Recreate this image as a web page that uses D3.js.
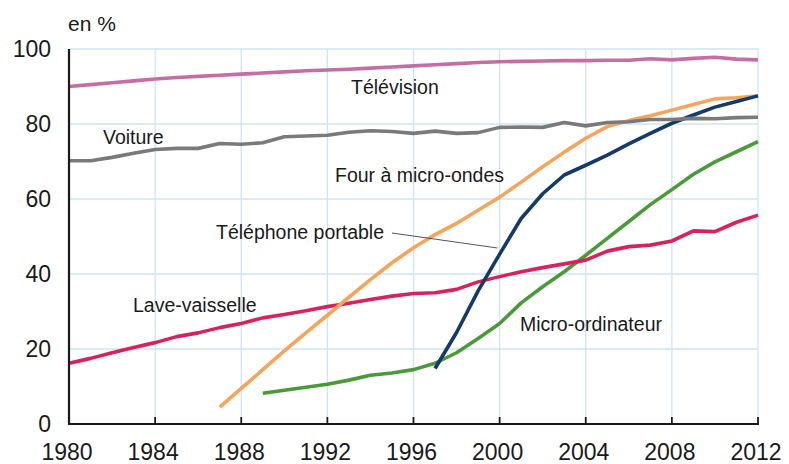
<!DOCTYPE html>
<html>
<head>
<meta charset="utf-8">
<script src="https://cdn.jsdelivr.net/npm/d3@7"></script>
<style>
  body { margin: 0; background: #fff; }
  text { font-family: "Liberation Sans", Arial, sans-serif; fill: #1a1a1a; }
</style>
</head>
<body>
<div id="chart"></div>
<script>
// data (taux d'équipement des ménages, en %)
const years = d3.range(1980, 2013);
const xTicks = [1980, 1984, 1988, 1992, 1996, 2000, 2004, 2008, 2012];
const yTicks = [0, 20, 40, 60, 80, 100];

const television = [90, 90.5, 91, 91.5, 92, 92.4, 92.7, 93, 93.3, 93.6, 93.9, 94.2, 94.4, 94.6, 94.9, 95.2,
  95.5, 95.8, 96.1, 96.4, 96.6, 96.7, 96.8, 96.9, 96.9, 97.0, 97.0, 97.4, 97.1, 97.5, 97.8, 97.3, 97.1];
const voiture = [70.2, 70.2, 71.1, 72.2, 73.2, 73.5, 73.5, 74.8, 74.6, 75, 76.6, 76.8, 77, 77.8, 78.2, 78,
  77.5, 78.1, 77.5, 77.7, 79.1, 79.2, 79.1, 80.4, 79.5, 80.4, 80.6, 81.2, 81.2, 81.5, 81.4, 81.7, 81.8];
const laveVaisselle = [16.2, 17.5, 19, 20.4, 21.7, 23.3, 24.3, 25.7, 26.8, 28.3, 29.2, 30.2, 31.3, 32.2, 33.2, 34.1,
  34.8, 35, 35.9, 37.9, 39.3, 40.6, 41.7, 42.7, 43.7, 46.1, 47.3, 47.7, 48.8, 51.5, 51.3, 53.8, 55.7];

const microOndesYears = d3.range(1987, 2013);
const microOndes = [4.5, 9.5, 14.5, 19.5, 24.3, 29, 33.8, 38.5, 43, 47, 50.5, 53.5, 57, 60.5, 64.5, 68.6,
  72.5, 76.2, 79.3, 80.9, 82.2, 83.7, 85.2, 86.7, 87, 87.5];

const microOrdiYears = d3.range(1989, 2013);
const microOrdi = [8.2, 9, 9.8, 10.6, 11.7, 13, 13.6, 14.5, 16.2, 19, 22.8, 26.8, 32.3, 36.6, 40.6, 45,
  49.5, 54, 58.5, 62.5, 66.6, 69.9, 72.6, 75.3];

const portableYears = d3.range(1997, 2013);
const portable = [14.8, 24.4, 35.5, 45.3, 54.8, 61.4, 66.4, 69, 71.7, 74.7, 77.5, 80.2, 82.4, 84.5, 86, 87.5];

const series = [
  { name: "Micro-ordinateur", years: microOrdiYears, values: microOrdi, color: "#4b9a3a" },
  { name: "Lave-vaisselle", years: years, values: laveVaisselle, color: "#d9215c" },
  { name: "Four à micro-ondes", years: microOndesYears, values: microOndes, color: "#f5a55a" },
  { name: "Téléphone portable", years: portableYears, values: portable, color: "#133a68" },
  { name: "Voiture", years: years, values: voiture, color: "#7a7a7a" },
  { name: "Télévision", years: years, values: television, color: "#c66ea4" }
];

// label positions (text baseline, left edge)
const labels = [
  { text: "Télévision", x: 351, y: 94 },
  { text: "Voiture", x: 103, y: 144 },
  { text: "Four à micro-ondes", x: 335, y: 182 },
  { text: "Téléphone portable", x: 216, y: 239 },
  { text: "Lave-vaisselle", x: 133, y: 312 },
  { text: "Micro-ordinateur", x: 520, y: 331 }
];

const width = 789, height = 464;

const x = d3.scaleLinear().domain([1980, 2012]).range([69, 758]);
const y = d3.scaleLinear().domain([0, 100]).range([424, 49]);

const svg = d3.select("#chart").append("svg")
  .attr("width", width)
  .attr("height", height);

// grid
svg.append("g").selectAll("line.v")
  .data(xTicks.slice(1))
  .join("line")
  .attr("x1", d => x(d)).attr("x2", d => x(d))
  .attr("y1", y(100)).attr("y2", y(0))
  .attr("stroke", "#cfe4f3").attr("stroke-width", 1.3);

svg.append("g").selectAll("line.h")
  .data(yTicks.slice(1))
  .join("line")
  .attr("x1", x(1980)).attr("x2", x(2012))
  .attr("y1", d => y(d)).attr("y2", d => y(d))
  .attr("stroke", "#cfe4f3").attr("stroke-width", 1.3);

// series lines
const line = d3.line()
  .x(d => x(d[0]))
  .y(d => y(d[1]));

svg.append("g").selectAll("path")
  .data(series)
  .join("path")
  .attr("d", s => line(s.years.map((yr, i) => [yr, s.values[i]])))
  .attr("fill", "none")
  .attr("stroke", s => s.color)
  .attr("stroke-width", 3.6)
  .attr("stroke-linejoin", "round");

// axes
svg.append("line")
  .attr("x1", x(1980)).attr("x2", x(1980))
  .attr("y1", y(100)).attr("y2", y(0) + 1)
  .attr("stroke", "#1a1a1a").attr("stroke-width", 2.2);

svg.append("line")
  .attr("x1", x(1980) - 1).attr("x2", x(2012) + 1)
  .attr("y1", y(0)).attr("y2", y(0))
  .attr("stroke", "#1a1a1a").attr("stroke-width", 2.2);

svg.append("g").selectAll("line")
  .data(xTicks.slice(1))
  .join("line")
  .attr("x1", d => x(d)).attr("x2", d => x(d))
  .attr("y1", y(0)).attr("y2", y(0) - 7)
  .attr("stroke", "#1a1a1a").attr("stroke-width", 1.8);

// tick labels
svg.append("g").selectAll("text")
  .data(yTicks)
  .join("text")
  .attr("x", 51)
  .attr("y", d => y(d) + 8)
  .attr("text-anchor", "end")
  .style("font-size", "23px")
  .text(d => d);

svg.append("g").selectAll("text")
  .data(xTicks)
  .join("text")
  .attr("x", d => x(d) - 2)
  .attr("y", 460)
  .attr("text-anchor", "middle")
  .style("font-size", "23px")
  .text(d => d);

svg.append("text")
  .attr("x", 68).attr("y", 31)
  .style("font-size", "21px")
  .text("en %");

// leader line for the mobile phone label
svg.append("line")
  .attr("x1", 392).attr("y1", 233)
  .attr("x2", x(1999.9)).attr("y2", 248)
  .attr("stroke", "#555").attr("stroke-width", 1);

// series labels
svg.append("g").selectAll("text")
  .data(labels)
  .join("text")
  .attr("x", d => d.x)
  .attr("y", d => d.y)
  .style("font-size", "19.5px")
  .text(d => d.text);
</script>
</body>
</html>
